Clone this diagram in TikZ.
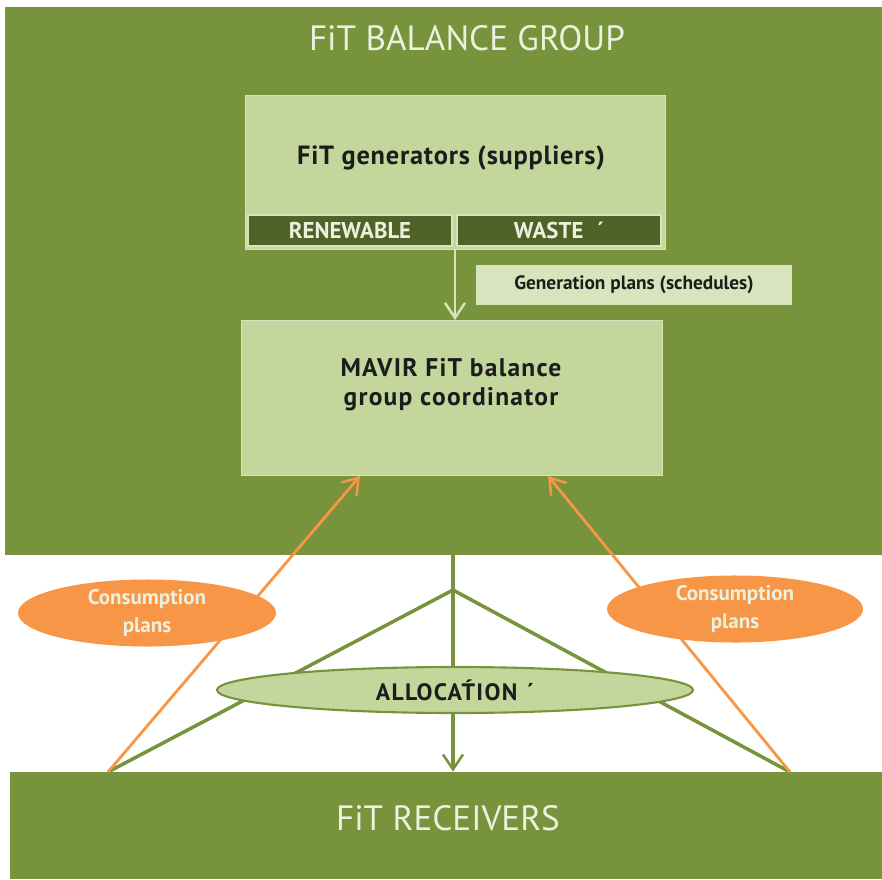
\documentclass[tikz,border=0pt]{standalone}
\usepackage{fontspec}
\setmainfont{PT Sans}
\usetikzlibrary{arrows.meta,shapes.geometric}

\definecolor{grpgreen}{HTML}{77933C}
\definecolor{boxgreen}{HTML}{C3D69B}
\definecolor{bargreen}{HTML}{4F6228}
\definecolor{plangreen}{HTML}{D7E4BD}
\definecolor{consorange}{HTML}{F79646}
\definecolor{paletext}{HTML}{EBF1DE}
\definecolor{darktext}{HTML}{1C1C1C}

\begin{document}
\begin{tikzpicture}[x=0.2mm,y=-0.2mm,
  area/.style={rectangle, fill=grpgreen, inner sep=0pt},
  box/.style={rectangle, fill=boxgreen, draw=plangreen, line width=0.5pt, inner sep=0pt},
  bar/.style={rectangle, fill=bargreen, draw=plangreen, line width=1pt, inner sep=0pt,
    text=paletext, font=\bfseries\fontsize{13}{15}\selectfont},
  oval/.style={ellipse, inner sep=0pt, font=\bfseries\fontsize{12}{16}\selectfont, align=center},
  head/.style={text=paletext, font=\fontsize{20}{24}\selectfont},
  label/.style={text=darktext, font=\bfseries\fontsize{15}{18}\selectfont\addfontfeatures{LetterSpace=3}, align=center},
  barb/.style={-{Straight Barb[length=3mm,width=4mm,line width=1.4pt]}}]
\useasboundingbox[fill=white] (0,0) rectangle (882,879);

% the two green areas
\node[area, minimum width=17.54cm, minimum height=10.96cm] (grp) at (443.5,281){};
\node[head] (grptitle) at (467,38){FiT BALANCE GROUP};
\node[area, minimum width=17.44cm, minimum height=2.14cm] (rcv) at (446,825.5){};
\node[head] (rcvtitle) at (448,818){FiT RECEIVERS};

% generators with their two kinds
\node[box, minimum width=8.4cm, minimum height=3.08cm] (gen) at (455,172){};
\node[label] (gentxt) at (451,158){FiT generators (suppliers)};
\node[bar, minimum width=4.08cm, minimum height=0.62cm] (ren) at (350,230.5){RENEWABLE};
\node[bar, minimum width=4.08cm, minimum height=0.62cm] (was) at (559,230.5){WASTE\hspace{0.6em}´};

\node[rectangle, fill=plangreen, inner sep=0pt, minimum width=6.32cm, minimum height=0.8cm,
  text=darktext, font=\bfseries\fontsize{11}{14}\selectfont] (plan) at (634,285){Generation plans (schedules)};

% coordinator
\node[box, minimum width=8.42cm, minimum height=3.1cm] (mav) at (452,398){};
\node[label, font=\bfseries\fontsize{14.5}{16.5}\selectfont\addfontfeatures{LetterSpace=5}] (mavtxt) at (451,385){MAVIR FiT balance\\group coordinator};

\coordinate (apex) at (453,590);
\coordinate (fl) at (108,772);
\coordinate (fr) at (790,772);
\coordinate (mavl) at (360,476);
\coordinate (mavr) at (548,476);

\draw[barb, draw=plangreen, line width=1.4pt] (gen.south) -- (gen.south |- mav.north);

\draw[grpgreen, line width=2pt] (fl) -- (apex) -- (fr);
\draw[barb, grpgreen, line width=2pt] (apex |- grp.south) -- (apex |- rcv.north);

\draw[barb, consorange, line width=1.6pt] (fl) -- (mavl);
\draw[barb, consorange, line width=1.6pt] (fr) -- (mavr);

% ovals on top of the lines
\node[oval, fill=boxgreen, draw=grpgreen, line width=1.2pt, minimum width=9.52cm, minimum height=0.92cm,
  text=darktext, font=\bfseries\fontsize{13.5}{15}\selectfont\addfontfeatures{LetterSpace=6}] (alloc) at (455,690){ALLOCA\'{T}ION\hspace{0.4em}´};
\node[oval, fill=consorange, minimum width=5.16cm, minimum height=1.06cm, text=paletext] (cpl) at (147,613){Consumption\\plans};
\node[oval, fill=consorange, minimum width=5.12cm, minimum height=1.04cm, text=paletext] (cpr) at (735,609){Consumption\\plans};

\end{tikzpicture}
\end{document}
